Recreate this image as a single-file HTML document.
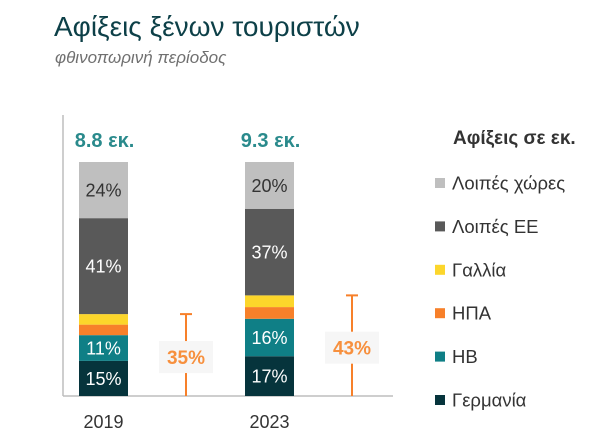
<!DOCTYPE html>
<html><head><meta charset="utf-8">
<style>
html,body{margin:0;padding:0;background:#fff;}
svg{display:block;font-family:"Liberation Sans","DejaVu Sans",sans-serif;}
</style></head>
<body>
<svg id="chart" width="600" height="433" viewBox="0 0 600 433">
  <text x="54" y="36" font-size="28" fill="#0d4048">Αφίξεις ξένων τουριστών</text>
  <text x="55" y="63" font-size="17" font-style="italic" fill="#707070">φθινοπωρινή περίοδος</text>
  <line x1="63" y1="115" x2="63" y2="396" stroke="#bdbdbd" stroke-width="1.5"/>
  <line x1="63" y1="396" x2="393" y2="396" stroke="#bdbdbd" stroke-width="1.5"/>
  <g id="bars"></g>
  <g id="legend"></g>
</svg>
<script>
const years = ['2019', '2023'];
const totals = ['8.8 εκ.', '9.3 εκ.'];
const seriesNames = ['Γερμανία', 'ΗΒ', 'ΗΠΑ', 'Γαλλία', 'Λοιπές ΕΕ', 'Λοιπές χώρες'];
const germany = [15, 17];
const uk = [11, 16];
const usa = [4.5, 5];
const france = [4.5, 5];
const otherEU = [41, 37];
const otherCountries = [24, 20];
const shareLabels = ['35%', '43%'];
const shareValues = [35, 43];

const seriesData = [germany, uk, usa, france, otherEU, otherCountries];
const colors = ['#06343c', '#0f7f86', '#f7802a', '#fcd62b', '#595959', '#bfbfbf'];
const textColors = ['#ffffff', '#ffffff', null, null, '#ffffff', '#333333'];
const keys = ['germany', 'uk', 'usa', 'france', 'other-eu', 'other-countries'];
const NS = 'http://www.w3.org/2000/svg';
const baseY = 396, plotH = 234;
const y = v => baseY - v / 100 * plotH;
const barX = [79, 245], barW = 49;
const errX = [186, 352];
const g = document.getElementById('bars');
function mk(tag, attrs, parent) {
  const e = document.createElementNS(NS, tag);
  for (const k in attrs) e.setAttribute(k, attrs[k]);
  parent.appendChild(e);
  return e;
}
years.forEach((yr, i) => {
  let cum = 0;
  seriesData.forEach((s, j) => {
    const v = s[i];
    const r = mk('rect', {x: barX[i], y: y(cum + v), width: barW, height: y(cum) - y(cum + v), fill: colors[j]}, g);
    
    
    if (textColors[j]) {
      const t = mk('text', {x: barX[i] + barW / 2, y: (y(cum) + y(cum + v)) / 2 + 6.5, 'font-size': 18, fill: textColors[j], 'text-anchor': 'middle'}, g);
      t.textContent = Math.round(v) + '%';
      
      
    }
    cum += v;
  });
  const tt = mk('text', {x: barX[i] + barW / 2 + 1, y: 147, 'font-size': 20, 'font-weight': 'bold', fill: '#2a8a8c', 'text-anchor': 'middle'}, g);
  tt.textContent = totals[i];
  
  
  const yl = mk('text', {x: barX[i] + barW / 2, y: 428, 'font-size': 18, fill: '#333333', 'text-anchor': 'middle'}, g);
  yl.textContent = yr;
  
  
  const top = y(shareValues[i]);
  const ln = mk('line', {x1: errX[i], y1: top, x2: errX[i], y2: baseY, stroke: '#f7802a', 'stroke-width': 2}, g);
  
  
  const cap = mk('line', {x1: errX[i] - 6, y1: top, x2: errX[i] + 6, y2: top, stroke: '#f7802a', 'stroke-width': 2}, g);
  
  
  const my = (top + baseY) / 2 + 2;
  const bx = mk('rect', {x: errX[i] - 27, y: my - 16, width: 54, height: 32, fill: '#f6f6f6'}, g);
  
  
  const st = mk('text', {x: errX[i], y: my + 7, 'font-size': 19, 'font-weight': 'bold', fill: '#f7903e', 'text-anchor': 'middle'}, g);
  st.textContent = shareLabels[i];
  
  
});
const lg = document.getElementById('legend');
const lt = mk('text', {x: 453, y: 144, 'font-size': 19, 'font-weight': 'bold', fill: '#333333'}, lg);
lt.textContent = 'Αφίξεις σε εκ.';


for (let k = 0; k < 6; k++) {
  const j = 5 - k;
  const cy = 183 + k * 43.4;
  const sq = mk('rect', {x: 435, y: cy - 5, width: 10, height: 10, fill: colors[j]}, lg);
  
  
  const t = mk('text', {x: 452, y: cy + 6.5, 'font-size': 18.5, fill: '#333333'}, lg);
  t.textContent = seriesNames[j];
  
  
}
</script>
</body></html>
